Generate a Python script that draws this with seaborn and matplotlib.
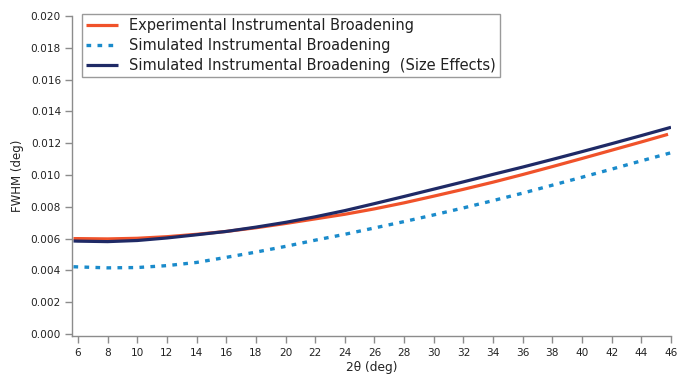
import matplotlib
matplotlib.use("Agg")
import matplotlib.pyplot as plt
import seaborn as sns

sns.set_theme(style="ticks")
plt.rcParams["font.family"] = ["DejaVu Sans"]

# 2-theta positions (deg)
two_theta = [5.7, 6, 8, 10, 12, 14, 16, 18, 20, 22, 24, 26, 28, 30, 32, 34, 36, 38, 40, 42, 44, 46]
two_theta_exp = [5.7, 6, 8, 10, 12, 14, 16, 18, 20, 22, 24, 26, 28, 30, 32, 34, 36, 38, 40, 42, 44, 45.8]

# FWHM (deg)
fwhm_experimental = [0.00600, 0.00600, 0.00598, 0.00602, 0.00612, 0.00627, 0.00645, 0.00668,
                     0.00695, 0.00724, 0.00753, 0.00787, 0.00825, 0.00867, 0.00910, 0.00955,
                     0.01003, 0.01053, 0.01104, 0.01156, 0.01208, 0.01256]
fwhm_simulated = [0.00423, 0.00422, 0.00416, 0.00418, 0.00430, 0.00450, 0.00482, 0.00515,
                  0.00551, 0.00590, 0.00627, 0.00667, 0.00707, 0.00749, 0.00793, 0.00839,
                  0.00886, 0.00936, 0.00986, 0.01037, 0.01089, 0.01140]
fwhm_size = [0.00585, 0.00584, 0.00581, 0.00588, 0.00604, 0.00624, 0.00645, 0.00672,
             0.00702, 0.00737, 0.00776, 0.00820, 0.00865, 0.00911, 0.00957, 0.01004,
             0.01050, 0.01098, 0.01147, 0.01197, 0.01248, 0.01300]

labels = ["Experimental Instrumental Broadening",
          "Simulated Instrumental Broadening",
          "Simulated Instrumental Broadening  (Size Effects)"]
x_ticks = list(range(6, 47, 2))
y_ticks = [0.000, 0.002, 0.004, 0.006, 0.008, 0.010, 0.012, 0.014, 0.016, 0.018, 0.020]

c_exp = "#F0522A"
c_sim = "#1A8BCB"
c_size = "#1F2A66"
grey = "#8C8C8C"
text_col = "#222222"

fig = plt.figure(figsize=(6.78, 3.80), dpi=100)
ax = fig.add_axes([72 / 678, 1 - 336 / 380, (671 - 72) / 678, (336 - 16) / 380])

sns.lineplot(x=two_theta_exp, y=fwhm_experimental, ax=ax, color=c_exp, lw=2.3,
             label=labels[0], solid_capstyle="butt")
sns.lineplot(x=two_theta, y=fwhm_simulated, ax=ax, color=c_sim, lw=2.4,
             label=labels[1])
ax.lines[-1].set_linestyle((0, (1.4, 1.9)))
ax.lines[-1].set_dash_capstyle("butt")
sns.lineplot(x=two_theta, y=fwhm_size, ax=ax, color=c_size, lw=2.3,
             label=labels[2], solid_capstyle="butt")

ax.set_xlim(5.6, 46)
ax.set_ylim(-0.000126, 0.020)
ax.set_xticks(x_ticks)
ax.set_yticks(y_ticks)
ax.set_yticklabels([f"{v:.3f}" for v in y_ticks])
ax.set_xlabel("2θ (deg)", fontsize=8.8, color=text_col, labelpad=2)
ax.set_ylabel("FWHM (deg)", fontsize=8.5, color=text_col, labelpad=5)

for side in ["top", "right"]:
    ax.spines[side].set_visible(False)
for side in ["left", "bottom"]:
    ax.spines[side].set_color(grey)
    ax.spines[side].set_linewidth(1.0)
ax.tick_params(axis="both", direction="out", length=5, width=1.0, color=grey,
               labelsize=7.6, labelcolor=text_col, pad=3)
ax.tick_params(axis="x", pad=4)

leg = ax.legend(loc="upper left", bbox_to_anchor=(0.0167, 1.006), fontsize=10.5,
                frameon=True, fancybox=False, framealpha=1, edgecolor="#9A9A9A",
                handlelength=2.2, handletextpad=0.7, borderpad=0.3, labelspacing=0.32,
                borderaxespad=0)
leg.get_frame().set_linewidth(1.0)
for t in leg.get_texts():
    t.set_color(text_col)

fig.savefig("out.png", dpi=100)
